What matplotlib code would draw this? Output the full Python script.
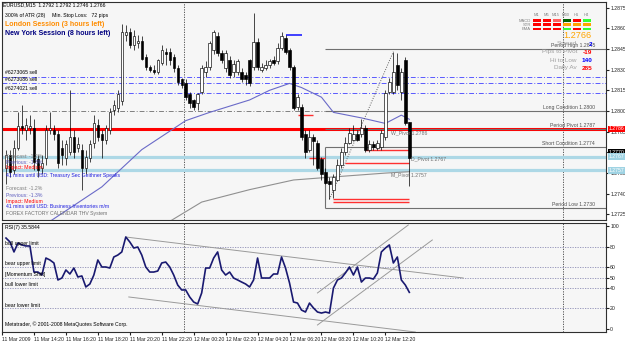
import matplotlib
matplotlib.use("Agg")
import matplotlib.pyplot as plt
import matplotlib.transforms as mtransforms

plt.rcParams['font.family'] = ['Liberation Sans', 'DejaVu Sans']

W, H = 625, 341

# M15 candles, bar index 1..102 (11 Mar 12:35 -> 12 Mar 13:35)
bars = list(range(1, 103))
opens = [1.2759, 1.2768, 1.2757, 1.2773, 1.2789, 1.2786, 1.2788, 1.2788, 1.2765, 1.2759,
         1.2766, 1.2786, 1.2786, 1.2783, 1.2773, 1.2766, 1.2770, 1.2781, 1.2773, 1.2772,
         1.2759, 1.2766, 1.2777, 1.2790, 1.2783, 1.2779, 1.2786, 1.2801, 1.2802, 1.2807,
         1.2855, 1.2857, 1.2848, 1.2849, 1.2851, 1.2839, 1.2832, 1.2830, 1.2828, 1.2835,
         1.2843, 1.2843, 1.2839, 1.2831, 1.2823, 1.2820, 1.2812, 1.2808, 1.2806, 1.2814,
         1.2828, 1.2832, 1.2844, 1.2854, 1.2842, 1.2831, 1.2837, 1.2828, 1.2828, 1.2828,
         1.2826, 1.2837, 1.2832, 1.2850, 1.2830, 1.2831, 1.2833, 1.2837, 1.2836, 1.2846,
         1.2853, 1.2844, 1.2832, 1.2803, 1.2803, 1.2783, 1.2772, 1.2781, 1.2777, 1.2765,
         1.2756, 1.2749, 1.2743, 1.2750, 1.2761, 1.2770, 1.2777, 1.2779, 1.2783, 1.2783,
         1.2788, 1.2772, 1.2776, 1.2773, 1.2774, 1.2781, 1.2814, 1.2814, 1.2833, 1.2814,
         1.2837, 1.2792]
highs = [1.2772, 1.2772, 1.2779, 1.2799, 1.2804, 1.2795, 1.2797, 1.2794, 1.2768, 1.2768,
         1.2790, 1.2799, 1.2790, 1.2786, 1.2779, 1.2779, 1.2815, 1.2786, 1.2781, 1.2776,
         1.2772, 1.2779, 1.2797, 1.2794, 1.2786, 1.2790, 1.2802, 1.2808, 1.2815, 1.2863,
         1.2862, 1.2860, 1.2859, 1.2855, 1.2854, 1.2841, 1.2833, 1.2833, 1.2838, 1.2848,
         1.2846, 1.2846, 1.2841, 1.2833, 1.2824, 1.2823, 1.2814, 1.2809, 1.2813, 1.2833,
         1.2836, 1.2851, 1.2859, 1.2857, 1.2844, 1.2844, 1.2840, 1.2837, 1.2838, 1.2831,
         1.2828, 1.2838, 1.2871, 1.2853, 1.2835, 1.2837, 1.2838, 1.2840, 1.2849, 1.2857,
         1.2855, 1.2846, 1.2833, 1.2812, 1.2805, 1.2786, 1.2786, 1.2783, 1.2779, 1.2767,
         1.2759, 1.2752, 1.2754, 1.2765, 1.2773, 1.2781, 1.2788, 1.2790, 1.2786, 1.2794,
         1.2790, 1.2779, 1.2778, 1.2779, 1.2786, 1.2815, 1.2824, 1.2843, 1.2842, 1.2831,
         1.2839, 1.2792]
lows = [1.2747, 1.2752, 1.2754, 1.2772, 1.2783, 1.2779, 1.2783, 1.2757, 1.2752, 1.2754,
        1.2761, 1.2783, 1.2779, 1.2759, 1.2761, 1.2761, 1.2768, 1.2766, 1.2770, 1.2743,
        1.2754, 1.2763, 1.2773, 1.2778, 1.2766, 1.2776, 1.2783, 1.2797, 1.2799, 1.2804,
        1.2851, 1.2846, 1.2844, 1.2846, 1.2837, 1.2830, 1.2828, 1.2827, 1.2827, 1.2833,
        1.2833, 1.2833, 1.2828, 1.2819, 1.2817, 1.2808, 1.2802, 1.2801, 1.2801, 1.2812,
        1.2825, 1.2830, 1.2841, 1.2840, 1.2835, 1.2828, 1.2824, 1.2825, 1.2826, 1.2821,
        1.2819, 1.2818, 1.2830, 1.2830, 1.2828, 1.2830, 1.2831, 1.2833, 1.2834, 1.2844,
        1.2841, 1.2830, 1.2801, 1.2801, 1.2779, 1.2766, 1.2770, 1.2761, 1.2757, 1.2750,
        1.2747, 1.2736, 1.2737, 1.2749, 1.2759, 1.2768, 1.2776, 1.2778, 1.2778, 1.2781,
        1.2770, 1.2770, 1.2772, 1.2772, 1.2772, 1.2779, 1.2812, 1.2812, 1.2815, 1.2808,
        1.2790, 1.2746]
closes = [1.2768, 1.2756, 1.2773, 1.2789, 1.2788, 1.2790, 1.2789, 1.2763, 1.2757, 1.2762,
          1.2786, 1.2788, 1.2783, 1.2762, 1.2768, 1.2776, 1.2781, 1.2770, 1.2776, 1.2759,
          1.2767, 1.2776, 1.2791, 1.2781, 1.2779, 1.2788, 1.2799, 1.2804, 1.2812, 1.2857,
          1.2857, 1.2848, 1.2854, 1.2851, 1.2838, 1.2832, 1.2830, 1.2828, 1.2837, 1.2844,
          1.2841, 1.2837, 1.2831, 1.2821, 1.2819, 1.2810, 1.2806, 1.2803, 1.2812, 1.2831,
          1.2832, 1.2849, 1.2857, 1.2842, 1.2837, 1.2842, 1.2826, 1.2834, 1.2836, 1.2823,
          1.2823, 1.2820, 1.2850, 1.2832, 1.2832, 1.2833, 1.2836, 1.2835, 1.2846, 1.2854,
          1.2843, 1.2832, 1.2802, 1.2810, 1.2781, 1.2770, 1.2781, 1.2778, 1.2759, 1.2754,
          1.2748, 1.2747, 1.2752, 1.2761, 1.2770, 1.2777, 1.2784, 1.2783, 1.2779, 1.2788,
          1.2772, 1.2776, 1.2774, 1.2777, 1.2784, 1.2813, 1.2821, 1.2828, 1.2819, 1.2828,
          1.2791, 1.2766]

rsi = [88.3, 84.5, 74.8, 83.5, 81.6, 80.6, 80.6, 55.3, 55.3, 52.4,
       68.9, 67.0, 64.1, 47.6, 49.5, 57.3, 53.4, 59.2, 50.5, 51.5,
       40.8, 43.7, 52.4, 67.0, 60.2, 60.2, 59.2, 69.9, 71.8, 74.8,
       89.3, 84.5, 78.6, 79.6, 71.8, 60.2, 55.3, 55.3, 56.3, 64.1,
       65.0, 60.2, 52.4, 42.7, 37.9, 37.9, 31.1, 26.2, 24.3, 35.0,
       59.2, 59.2, 68.9, 74.8, 57.3, 52.4, 55.3, 49.5, 47.6, 45.6,
       43.7, 40.8, 47.6, 68.9, 49.5, 49.5, 49.5, 53.4, 53.4, 69.9,
       59.2, 44.7, 26.2, 25.2, 18.4, 16.5, 25.2, 20.4, 16.5, 15.5,
       16.5, 15.5, 39.8, 47.6, 49.5, 54.4, 60.2, 52.4, 60.2, 45.6,
       49.5, 49.5, 48.5, 54.4, 74.8, 78.6, 81.6, 64.1, 69.9, 47.6,
       42.7, 35.6]

# moving averages (sampled at bar index)
ma_x = [12, 25, 35, 46, 52, 62, 67, 72, 75, 80, 83, 90, 96, 100, 102]
ma_y = [1.2720, 1.2745, 1.2772, 1.2793, 1.2799, 1.2808, 1.2815, 1.2820, 1.2817,
        1.2810, 1.2799, 1.2795, 1.2791, 1.2797, 1.2794]
ma2_x = [42, 50, 62, 73, 82, 96, 102]
ma2_y = [1.2720, 1.2734, 1.2743, 1.2750, 1.2752, 1.2755, 1.2756]

order_levels = [1.2825, 1.2820, 1.2813]
order_names = ['#6273065 sell', '#6273086 sell', '#6274021 sell']

period_levels = [1.2845, 1.2800, 1.2787, 1.2774, 1.2730]
period_names = ['Period High 1.2845', 'Long Condition 1.2800', 'Period Pivot 1.2787',
                'Short Condition 1.2774', 'Period Low 1.2730']

cyan_levels = [1.2767, 1.2757]
pivot_level = 1.2787

# short red markers: (start bar, end bar, price)
red_marks = [(74, 78, 1.2797), (77, 81, 1.2766), (91, 102, 1.2772), (86, 102, 1.2762),
             (83, 102, 1.2736), (83, 102, 1.2734)]

zz_x = [82, 98]
zz_y = [1.2736, 1.2843]

price_ticks = [1.2725, 1.2740, 1.2755, 1.2770, 1.2785, 1.2800, 1.2815, 1.2830, 1.2845, 1.2860, 1.2875]
time_pos = [0, 8, 16, 24, 32, 40, 48, 56, 64, 72, 80, 88, 96]
time_labels = ['11 Mar 2009', '11 Mar 14:20', '11 Mar 16:20', '11 Mar 18:20', '11 Mar 20:20',
               '11 Mar 22:20', '12 Mar 00:20', '12 Mar 02:20', '12 Mar 04:20', '12 Mar 06:20',
               '12 Mar 08:20', '12 Mar 10:20', '12 Mar 12:20']

rsi_levels = [80, 60, 50, 40, 20]
rsi_level_names = ['bull upper limit', 'bear upper limit', '[Momentum Shift]',
                   'bull lower limit', 'bear lower limit']
rsi_ticks = [0, 20, 40, 50, 60, 80, 100]
# rsi trend lines: (x0, y0, x1, y1)
rsi_trend = [(31, 89.3, 115.5, 49.5), (31.75, 31.1, 103.5, -2.9),
             (79, 35.0, 101.75, 101.0), (79, 3.9, 107.75, 86.4)]

separators = [45.5, 140.5]

# multi timeframe panel
tf_names = ['M1', 'M5', 'M15', 'M30', 'H1', 'H4']
ind_names = ['MACD', 'STR', 'EMA']
tf_colors = [['#ff0000', '#ff0000', '#ff6060', '#006400', '#ff0000', '#33ff33'],
             ['#ff0000', '#ff0000', '#ff0000', '#ffa500', '#ffa500', '#ffa500'],
             ['#ff0000', '#ff0000', '#ff0000', '#33ff33', '#ff0000', '#33ff33']]

FS = 3.7
BG = '#f6f6f6'


def px(x, y):
    return x / W, 1 - y / H


fig = plt.figure(figsize=(W / 100, H / 100), dpi=100)
fig.patch.set_facecolor('white')

ax = fig.add_axes([2 / W, 1 - 220 / H, 604 / W, 218 / H])
ax2 = fig.add_axes([2 / W, 1 - 332 / H, 604 / W, 109 / H], sharex=ax)
for a in (ax, ax2):
    a.set_facecolor(BG)
    for s in a.spines.values():
        s.set_color('#303030')
        s.set_linewidth(0.8)

ax.set_xlim(0.25, 151.25)
ax.set_ylim(1.2721, 1.2879)
ax2.set_ylim(-2.9, 102.9)

# separators
for sx in separators:
    ax.axvline(sx, color='#404040', ls=(0, (1.5, 1.5)), lw=0.6, zorder=1)
    ax2.axvline(sx, color='#404040', ls=(0, (1.5, 1.5)), lw=0.6, zorder=1)

# horizontal lines
for lv in order_levels:
    ax.axhline(lv, color='#5a5aff', ls=(0, (5, 2, 1, 2)), lw=0.7, zorder=2)
for lv in cyan_levels:
    ax.axhline(lv, color='#add8e6', lw=2.3, zorder=2)
ax.axhline(pivot_level, color='#ff0000', lw=2.2, zorder=2)

ax.hlines(period_levels[1], 0.25, 81, color='#808080', ls=(0, (5, 2, 1, 2)), lw=0.7, zorder=2)
for lv in period_levels:
    ax.hlines(lv, 81, 151.25, color='#707070', lw=0.8, zorder=2)
ax.vlines(81, period_levels[4], period_levels[3], color='#707070', lw=0.8, zorder=2)

for x0, x1, lv in red_marks:
    ax.hlines(lv, x0, x1, color='#ff3030', lw=1.0, zorder=3)

ax.hlines(1.2855, 71, 75, color='#4040ff', lw=1.4, zorder=3)

# moving averages
ax.plot(ma_x, ma_y, color='#6a6ac8', lw=0.8, zorder=3)
ax.plot(ma2_x, ma2_y, color='#909090', lw=0.8, zorder=3)
ax.plot(zz_x, zz_y, color='#606060', ls=(0, (1, 1.5)), lw=0.7, zorder=3)

# candles
for i, o, h, l, c in zip(bars, opens, highs, lows, closes):
    ax.vlines(i, l, h, color='black', lw=0.5, zorder=4)
    lo, hi = min(o, c), max(o, c)
    if hi - lo < 0.00008:
        ax.hlines((o + c) / 2, i - 0.3, i + 0.3, color='black', lw=0.8, zorder=5)
    else:
        ax.bar(i, hi - lo, bottom=lo, width=0.6, facecolor='white' if c >= o else 'black',
               edgecolor='black', lw=0.45, zorder=5)

# price axis
ax.yaxis.tick_right()
ax.set_yticks(price_ticks)
ax.set_yticklabels(['%.4f' % t for t in price_ticks])
ax.tick_params(axis='y', labelsize=FS, length=2, pad=1, colors='#202020')
ax.tick_params(axis='x', bottom=False, labelbottom=False)

bt = mtransforms.blended_transform_factory(ax.transAxes, ax.transData)
ax.text(1.004, pivot_level, '1.2786', transform=bt, fontsize=FS, color='white', va='center',
        bbox=dict(boxstyle='square,pad=0.15', fc='#ff0000', ec='none'), zorder=10)
ax.text(1.004, 1.2770, '1.2770', transform=bt, fontsize=FS, color='white', va='center',
        bbox=dict(boxstyle='square,pad=0.15', fc='black', ec='none'), zorder=10)
for lv in cyan_levels:
    ax.text(1.004, lv, '%.4f' % lv, transform=bt, fontsize=FS, color='white', va='center',
            bbox=dict(boxstyle='square,pad=0.15', fc='#9fd3e3', ec='none'), zorder=11)

# period labels
for lv, name in zip(period_levels, period_names):
    ax.text(148.5, lv + 0.00005, name, fontsize=FS, color='#505050', ha='right', va='bottom', zorder=6)
ax.text(97.5, 1.2784, 'W_Pivot 1.2786', fontsize=FS, color='#707070', va='center', zorder=6)
ax.text(102.5, 1.2765, 'D_Pivot 1.2767', fontsize=FS, color='#707070', va='center', zorder=6)
ax.text(97.3, 1.2754, 'M_Pivot 1.2757', fontsize=FS, color='#707070', va='center', zorder=6)

for lv, name in zip(order_levels, order_names):
    ax.text(0.8, lv + 0.00012, name, fontsize=FS, color='black', va='bottom', zorder=6)

# RSI panel
ax2.plot(bars, rsi, color='#191970', lw=1.2, zorder=4)
for lv, name in zip(rsi_levels, rsi_level_names):
    ax2.axhline(lv, color='#8c8cb4', ls=(0, (1.5, 1.5)), lw=0.6, zorder=2)
    ax2.text(0.8, lv + 0.8, name, fontsize=FS, color='black', va='bottom', zorder=6)
for x0, y0, x1, y1 in rsi_trend:
    ax2.plot([x0, x1], [y0, y1], color='#9a9a9a', lw=0.7, zorder=3)
ax2.yaxis.tick_right()
ax2.set_yticks(rsi_ticks)
ax2.set_yticklabels([str(t) for t in rsi_ticks])
ax2.tick_params(axis='y', labelsize=FS, length=2, pad=1, colors='#202020')
ax2.set_xticks(time_pos)
ax2.set_xticklabels(time_labels, ha='left')
ax2.tick_params(axis='x', labelsize=FS, length=2, pad=1.5, colors='#202020')
ax2.text(0.8, 101, 'RSI(7) 35.5844', fontsize=FS, color='black', va='top')
ax2.text(0.8, 1.5, 'Metatrader, \u00a9 2001-2008 MetaQuotes Software Corp.', fontsize=FS,
         color='black', va='bottom')

# top-left info
fig.text(*px(3, 5), 'EURUSD,M15  1.2792 1.2792 1.2746 1.2766', fontsize=FS, va='center')
fig.text(*px(5, 15), '300% of ATR (28)     Min. Stop Loss:   72 pips', fontsize=FS, va='center')
fig.text(*px(5, 24), 'London Session (3 hours left)', fontsize=5.0, weight='bold',
         color='#ff8c00', va='center')
fig.text(*px(5, 33.5), 'New York Session (8 hours left)', fontsize=5.0, weight='bold',
         color='#000080', va='center')

# news block
news = [(156, 'Forecast: -1.2%', '#808080'), (162, 'Previous: -1.3%', '#6060c0'),
        (168, 'Impact: Medium', '#ff0000'),
        (175, '41 mins until USD: Treasury Sec Geithner Speaks', '#2020e0'),
        (189, 'Forecast: -1.2%', '#808080'), (195, 'Previous: -1.3%', '#6060c0'),
        (201, 'Impact: Medium', '#ff0000'),
        (207, '41 mins until USD: Business Inventories m/m', '#2020e0'),
        (213, 'FOREX FACTORY CALENDAR THV System', '#707070')]
for y, t, c in news:
    fig.text(*px(6, y), t, fontsize=FS, color=c, va='center', zorder=7)

# multi timeframe panel
for j, name in enumerate(tf_names):
    fig.text(*px(536 + 10 * j, 15), name, fontsize=3.0, color='#808080', ha='center', va='center')
for r, name in enumerate(ind_names):
    fig.text(*px(531, 20.5 + 4.2 * r), name, fontsize=3.0, color='#808080', ha='right', va='center')
    for j in range(6):
        x0, y0 = px(533 + 10 * j, 22 + 4.2 * r)
        fig.patches.append(plt.Rectangle((x0, y0), 7.5 / W, 2.8 / H, transform=fig.transFigure,
                                         facecolor=tf_colors[r][j], edgecolor='none'))
fig.text(*px(591, 36), '1.2766', fontsize=6.6, color='#ffa500', ha='right', va='center')
stats = [(44, 'Spread', '2', '#0000ff'), (52, 'Pips to Pivot', '-19', '#ff0000'),
         (60, 'Hi to Low', '140', '#0000ff'), (68, 'Daily Av', '285', '#ff0000')]
for y, lab, val, c in stats:
    fig.text(*px(577, y), lab, fontsize=4.6, color='#a0a0a0', ha='right', va='center')
    fig.text(*px(592, y), val, fontsize=4.6, color=c, weight='bold', ha='right', va='center')

fig.savefig('out.png', dpi=100, facecolor='white')
